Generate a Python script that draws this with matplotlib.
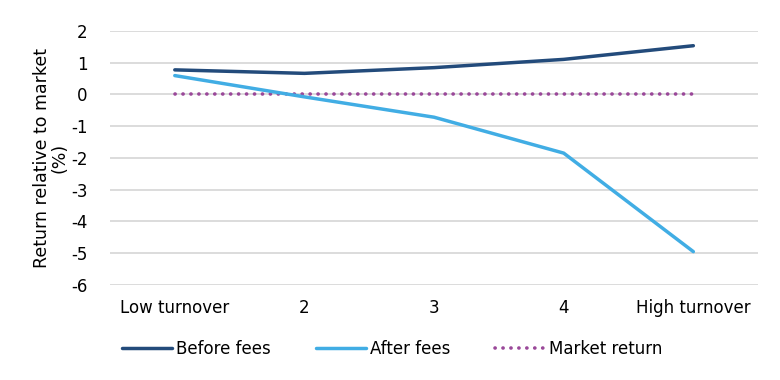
import matplotlib
matplotlib.use("Agg")
import matplotlib.pyplot as plt

# data
categories = ["Low turnover", "2", "3", "4", "High turnover"]
before_fees = [0.77, 0.66, 0.84, 1.10, 1.53]
after_fees = [0.59, -0.08, -0.72, -1.85, -4.95]
market_return = [0, 0, 0, 0, 0]

plt.rcParams['font.family'] = ['DejaVu Sans']
plt.rcParams['axes.unicode_minus'] = False

fig = plt.figure(figsize=(7.8, 3.8), dpi=100)
ax = fig.add_axes([0.141, 0.25, 0.831, 0.669])

x = list(range(len(categories)))
ax.plot(x, before_fees, color="#234b7b", lw=2.5, solid_capstyle="round", label="Before fees", zorder=3)
ax.plot(x, after_fees, color="#41ade4", lw=2.5, solid_capstyle="round", label="After fees", zorder=3)
ax.plot(x, market_return, color="#9a4899", lw=2.6, linestyle=(0, (0.05, 2.15)),
        dash_capstyle="round", label="Market return", zorder=2)

ax.set_xlim(-0.5, len(categories) - 0.5)
ax.set_ylim(-6, 2)
ax.set_yticks(range(-6, 3))
ax.set_xticks(x)
ax.set_xticklabels(categories)
ax.tick_params(length=0, labelsize=12, colors="black")
ax.tick_params(axis="x", pad=10)
ax.tick_params(axis="y", pad=16)
ax.grid(axis="y", color="#d9d9d9", lw=1.3)
ax.set_axisbelow(True)
for s in ax.spines.values():
    s.set_visible(False)

ax.set_ylabel("Return relative to market\n(%)", fontsize=12.5, labelpad=2, linespacing=0.95)

fig.legend(loc="center", bbox_to_anchor=(0.503, 0.082), ncol=3, frameon=False,
           fontsize=12, handlelength=3.0, handletextpad=0.25, columnspacing=2.7)

fig.savefig("out.png", dpi=100)
